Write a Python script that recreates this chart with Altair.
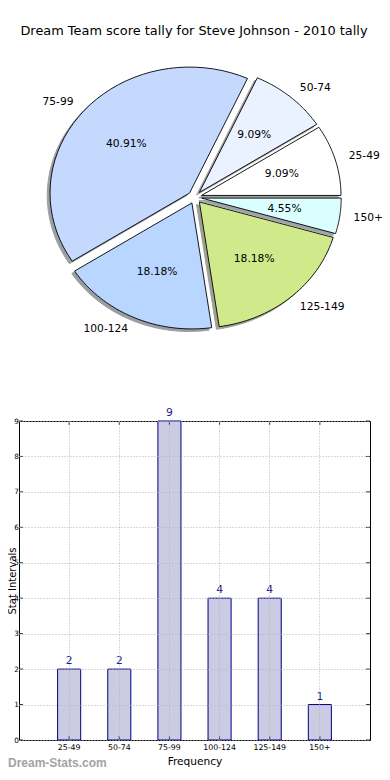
import altair as alt
import pandas as pd

# ---------------- data ----------------
categories = ["25-49", "50-74", "75-99", "100-124", "125-149", "150+"]
counts = [2, 2, 9, 4, 4, 1]
slice_colors = ["#ffffff", "#eaf1ff", "#c5d9ff", "#b8d6ff", "#d0e98b", "#dbffff"]
explode = [0.05, 0.05, 0.05, 0.05, 0.05, 0.05]
y_ticks = [0, 1, 2, 3, 4, 5, 6, 7, 8, 9]
title_text = "Dream Team score tally for Steve Johnson - 2010 tally"
x_title = "Frequency"
y_title = "Stat Intervals"
watermark = "Dream-Stats.com"

FONT = "DejaVu Sans"


def shade(h, rho=0.3):
    r, g, b = (int(h[i:i + 2], 16) for i in (1, 3, 5))
    return "#%02x%02x%02x" % (int(r * rho), int(g * rho), int(b * rho))


shadow_colors = [shade(c) for c in slice_colors]

pie_df = pd.DataFrame({"cat": categories, "count": counts, "explode": explode,
                       "idx": list(range(len(categories)))})
bar_df = pd.DataFrame({"cat": categories, "count": counts})
tick_df = pd.DataFrame({"count": y_ticks})

# ---------------- pie (matplotlib-like, counter-clockwise from east) ----------------
PX = alt.Scale(domain=[-1.26022, 1.25591], nice=False, zero=False)
PY = alt.Scale(domain=[-4.30794, -1.77619], nice=False, zero=False)

base = (
    alt.Chart(pie_df)
    .transform_joinaggregate(total="sum(count)")
    .transform_window(cum="sum(count)", sort=[alt.SortField("idx")], frame=[None, 0])
    .transform_calculate(a0="2*PI*(datum.cum - datum.count)/datum.total")
    .transform_calculate(a1="2*PI*datum.cum/datum.total")
    .transform_calculate(am="(datum.a0 + datum.a1)/2")
    .transform_calculate(ox="datum.explode*cos(datum.am)")
    .transform_calculate(oy="datum.explode*sin(datum.am)")
)

poly = (
    base.transform_calculate(steps="sequence(-1, 42)")
    .transform_flatten(["steps"])
    .transform_calculate(t="clamp(datum.steps, 0, 40)/40")
    .transform_calculate(edge="(datum.steps >= 0 && datum.steps <= 40) ? 1 : 0")
    .transform_calculate(ang="datum.a0 + datum.t*(datum.a1 - datum.a0)")
    .transform_calculate(px="datum.ox + datum.edge*cos(datum.ang)")
    .transform_calculate(py="datum.oy + datum.edge*sin(datum.ang)")
    .transform_calculate(sx="datum.px - 0.02")
    .transform_calculate(sy="datum.py - 0.02")
)

shadow = poly.mark_line(opacity=0.5, strokeWidth=1).encode(
    x=alt.X("sx:Q", scale=PX, axis=None),
    y=alt.Y("sy:Q", scale=PY, axis=None),
    detail="cat:N",
    order=alt.Order("steps:Q"),
    fill=alt.Fill("cat:N", scale=alt.Scale(domain=categories, range=shadow_colors), legend=None),
    stroke=alt.Stroke("cat:N", scale=alt.Scale(domain=categories, range=shadow_colors), legend=None),
)

wedges = poly.mark_line(stroke="black", strokeWidth=0.9).encode(
    x=alt.X("px:Q", scale=PX, axis=None),
    y=alt.Y("py:Q", scale=PY, axis=None),
    detail="cat:N",
    order=alt.Order("steps:Q"),
    fill=alt.Fill("cat:N", scale=alt.Scale(domain=categories, range=slice_colors), legend=None),
)

lab = (
    base.transform_calculate(lx="(datum.explode + 1.1)*cos(datum.am)")
    .transform_calculate(ly="(datum.explode + 1.1)*sin(datum.am)")
    .transform_calculate(qx="(datum.explode + 0.6)*cos(datum.am)")
    .transform_calculate(qy="(datum.explode + 0.6)*sin(datum.am)")
    .transform_calculate(pct="format(100*datum.count/datum.total, '.2f') + '%'")
)

labels_l = lab.transform_filter("datum.lx > 0").mark_text(
    align="left", baseline="middle", font=FONT, fontSize=10.7, color="black"
).encode(x=alt.X("lx:Q", scale=PX, axis=None), y=alt.Y("ly:Q", scale=PY, axis=None), text="cat:N")

labels_r = lab.transform_filter("datum.lx <= 0").mark_text(
    align="right", baseline="middle", font=FONT, fontSize=10.7, color="black"
).encode(x=alt.X("lx:Q", scale=PX, axis=None), y=alt.Y("ly:Q", scale=PY, axis=None), text="cat:N")

pcts = lab.mark_text(
    align="center", baseline="middle", font=FONT, fontSize=10.7, color="black"
).encode(x=alt.X("qx:Q", scale=PX, axis=None), y=alt.Y("qy:Q", scale=PY, axis=None), text="pct:N")

title = alt.Chart(alt.Data(values=[{"t": title_text}])).mark_text(
    align="center", baseline="alphabetic", font=FONT, fontSize=12.9, color="black"
).encode(x=alt.value(175), y=alt.value(-386.5), text="t:N")

# ---------------- bar chart ----------------
XS = alt.Scale(type="band", domain=categories, paddingInner=0.54, paddingOuter=0.77)
YS = alt.Scale(domain=[0, 9], nice=False, zero=True)

XB = alt.X(
    "cat:N", sort=categories, scale=XS,
    axis=alt.Axis(orient="bottom", title=x_title, labelAngle=0, labelFont=FONT, labelFontSize=7.8,
                  labelColor="black", labelPadding=3, ticks=False, tickSize=0, domain=False,
                  grid=True, gridColor="#b4b4b4", gridDash=[1, 2], gridWidth=1, bandPosition=0.5,
                  titleFont=FONT, titleFontSize=10.6, titleFontWeight="normal", titleColor="black",
                  titleY=24, titleBaseline="alphabetic", zindex=1),
)
YB = alt.Y(
    "count:Q", scale=YS,
    axis=alt.Axis(orient="left", title=y_title, values=y_ticks, format="d", labelFont=FONT,
                  labelFontSize=7.3, labelColor="black", labelPadding=0.5, ticks=False, tickSize=0,
                  domain=False, grid=True, gridColor="#b4b4b4", gridDash=[1, 2], gridWidth=1,
                  titleFont=FONT, titleFontSize=10, titleFontWeight="normal", titleColor="black",
                  titleX=-3.6, titleY=159.5, titleAngle=270, titleAlign="center",
                  titleBaseline="alphabetic", zindex=1),
)
XN = alt.X("cat:N", sort=categories, scale=XS, axis=None)
YN = alt.Y("count:Q", scale=YS, axis=None)

bars = alt.Chart(bar_df).mark_bar(fill="#cbcbe3", stroke="#000080", strokeWidth=1).encode(x=XB, y=YB)
bar_text = alt.Chart(bar_df).mark_text(
    align="center", baseline="alphabetic", dy=-5, font=FONT, fontSize=10.7, color="#1c1c8c"
).encode(x=XN, y=YN, text="count:Q")

tick_l = alt.Chart(tick_df).mark_rule(color="#333333", strokeWidth=1).encode(
    y=YN, x=alt.value(0), x2=alt.value(4))
tick_r = alt.Chart(tick_df).mark_rule(color="#333333", strokeWidth=1).encode(
    y=YN, x=alt.value(347), x2=alt.value(351))
tick_b = alt.Chart(bar_df).mark_rule(color="#333333", strokeWidth=1).encode(
    x=XN, y=alt.value(315), y2=alt.value(319))
tick_t = alt.Chart(bar_df).mark_rule(color="#333333", strokeWidth=1).encode(
    x=XN, y=alt.value(0), y2=alt.value(4))

mark_wm = alt.Chart(alt.Data(values=[{"t": watermark}])).mark_text(
    align="left", baseline="alphabetic", font="Liberation Sans", fontWeight="bold",
    fontSize=12, color="#a3a3a3"
).encode(x=alt.value(-11), y=alt.value(346), text="t:N")

chart = (
    alt.layer(shadow, wedges, labels_l, labels_r, pcts, title,
              bars, tick_l, tick_r, tick_b, tick_t, bar_text, mark_wm)
    .resolve_scale(x="independent", y="independent", fill="independent", stroke="independent")
    .properties(
        width=351, height=319,
        autosize=alt.AutoSizeParams(type="none"),
        padding={"left": 11, "top": 413, "right": 12, "bottom": 32},
        background="white",
    )
    .configure_view(stroke="black", strokeWidth=1)
)

chart.save("out.html", embed_options={"renderer": "svg", "actions": False})
